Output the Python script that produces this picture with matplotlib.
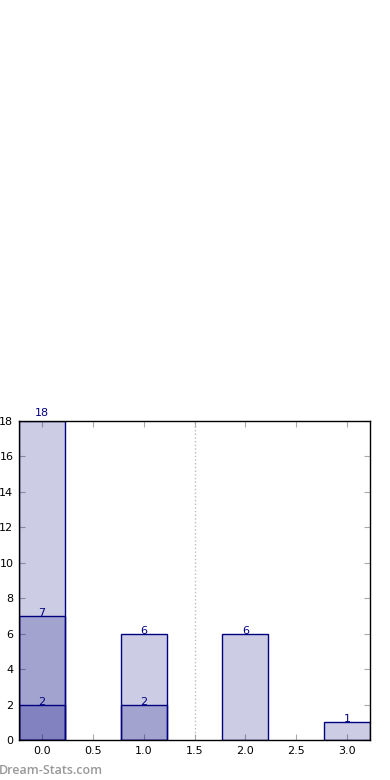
import matplotlib
matplotlib.use("Agg")
import matplotlib.pyplot as plt

positions = [0, 1, 2, 3]
layer_totals = [18, 6, 6, 1]
layer_mid = [7, 2, 0, 0]
layer_low = [2, 0, 0, 0]
xticks = [0.0, 0.5, 1.0, 1.5, 2.0, 2.5, 3.0]
yticks = [0, 2, 4, 6, 8, 10, 12, 14, 16, 18]
ymax = 18

fig = plt.figure(figsize=(3.9, 7.8), dpi=100)
ax = fig.add_axes([19/390, 1-740/780, 351/390, 319/780])

for layer in (layer_totals, layer_mid, layer_low):
    for x, v in zip(positions, layer):
        if v <= 0:
            continue
        ax.bar(x, v, width=0.45, color=(0, 0, 0.5, 0.2), edgecolor='navy', linewidth=1, zorder=2)
        if v >= ymax:
            ax.annotate(str(v), (x, v), xytext=(0, 2.5), textcoords='offset points',
                        ha='center', va='bottom', color='navy', fontsize=8, zorder=3,
                        annotation_clip=False)
        else:
            ax.text(x, v, str(v), ha='center', va='baseline', color='navy', fontsize=8, zorder=3)

ax.axvline(1.5, color='#bbbbbb', linestyle=':', linewidth=1, zorder=1)
ax.set_xlim(-0.225, 3.225)
ax.set_ylim(0, ymax)
ax.set_xticks(xticks)
ax.set_xticklabels([f"{t:.1f}" for t in xticks])
ax.set_yticks(yticks)
ax.tick_params(direction='in', length=4, color='#aaaaaa', labelsize=8, top=True, right=True, pad=4)
for s in ax.spines.values():
    s.set_color('black')
    s.set_linewidth(1)

fig.text(-0.003, 0.004, "Dream-Stats.com", color='#999999', fontsize=9, family='Open Sans',
         fontweight='semibold', ha='left', va='bottom')
fig.savefig("out.png", dpi=100)
